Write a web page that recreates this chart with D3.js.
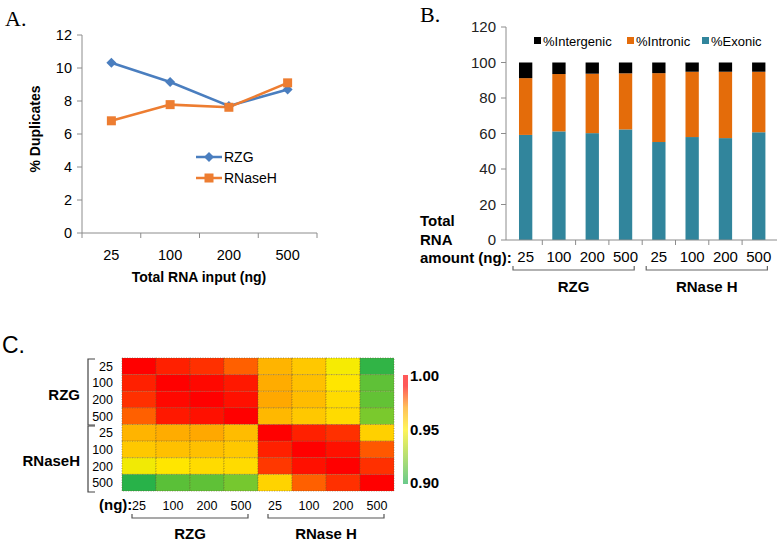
<!DOCTYPE html>
<html><head><meta charset="utf-8">
<script src="https://cdn.jsdelivr.net/npm/d3@7"></script>
<style>
body{margin:0;background:#fff;}
text{font-family:"Liberation Sans",Arial,sans-serif;fill:#000;}
</style></head>
<body><svg id="c" width="777" height="541"></svg>
<script>
// ---- Panel A data ----
const inputsA = ["25","100","200","500"];
const rzgDup = [10.32, 9.15, 7.7, 8.7];
const rnaseDup = [6.8, 7.78, 7.62, 9.1];
const yTicksA = [0,2,4,6,8,10,12];

// ---- Panel B data ----
const groupsB = ["RZG","RZG","RZG","RZG","RNase H","RNase H","RNase H","RNase H"];
const amountsB = ["25","100","200","500","25","100","200","500"];
const exonic = [59.2, 61.2, 60.2, 62.3, 55.2, 58.0, 57.4, 60.7];
const intronic = [32.0, 32.3, 33.5, 31.6, 38.8, 36.8, 37.4, 34.1];
const intergenic = [8.8, 6.5, 6.3, 6.1, 6.0, 5.2, 5.2, 5.2];
const yTicksB = [0,20,40,60,80,100,120];

// ---- Panel C data ----
const samplesC = ["RZG 25","RZG 100","RZG 200","RZG 500","RNaseH 25","RNaseH 100","RNaseH 200","RNaseH 500"];
const amountsC = ["25","100","200","500","25","100","200","500"];
const corr = [
 [0.995,0.986,0.984,0.978,0.965,0.960,0.948,0.905],
 [0.986,1.000,0.989,0.987,0.967,0.962,0.952,0.915],
 [0.984,0.989,1.000,0.988,0.968,0.963,0.955,0.916],
 [0.978,0.987,0.988,1.000,0.964,0.960,0.955,0.921],
 [0.965,0.967,0.968,0.963,1.000,0.986,0.984,0.958],
 [0.960,0.962,0.962,0.960,0.986,1.000,0.988,0.979],
 [0.947,0.952,0.955,0.955,0.983,0.988,1.000,0.984],
 [0.903,0.914,0.915,0.920,0.957,0.978,0.984,1.000]
];
const cbTicks = [0.90,0.95,1.00];

const svg = d3.select("#c");
const axisCol = "#8c8c8c";

// ================= Panel A =================
svg.append("text").attr("x",5).attr("y",26).text("A.")
  .style("font-family","'Liberation Serif',serif").style("font-size","22px");
const xA = d3.scaleBand().domain(inputsA).range([82,317]);
const yA = d3.scaleLinear().domain([0,12]).range([233,35]);
const gA = svg.append("g");
gA.append("line").attr("x1",82).attr("x2",82).attr("y1",yA(12)).attr("y2",yA(0)).attr("stroke",axisCol);
gA.append("line").attr("x1",82).attr("x2",317).attr("y1",yA(0)).attr("y2",yA(0)).attr("stroke",axisCol);
yTicksA.forEach(t=>{
  gA.append("line").attr("x1",77).attr("x2",82).attr("y1",yA(t)).attr("y2",yA(t)).attr("stroke",axisCol);
  gA.append("text").attr("x",72).attr("y",yA(t)+5).attr("text-anchor","end").style("font-size","14.5px").text(t);
});
[...inputsA.map(d=>xA(d)), 317].forEach(x=>{
  gA.append("line").attr("x1",x).attr("x2",x).attr("y1",yA(0)).attr("y2",yA(0)+5).attr("stroke",axisCol);
});
inputsA.forEach(d=>{
  gA.append("text").attr("x",xA(d)+xA.bandwidth()/2).attr("y",260).attr("text-anchor","middle").style("font-size","14.5px").text(d);
});
gA.append("text").attr("x",199).attr("y",282).attr("text-anchor","middle").style("font-size","14px").style("font-weight","bold").text("Total RNA input (ng)");
gA.append("text").attr("transform","translate(40,129) rotate(-90)").attr("text-anchor","middle").style("font-size","14px").style("font-weight","bold").text("% Duplicates");

const blue = "#4a7ebf", orange = "#ed7d31";
const lineA = d3.line().x((d,i)=>xA(inputsA[i])+xA.bandwidth()/2).y(d=>yA(d));
gA.append("path").datum(rzgDup).attr("d",lineA).attr("fill","none").attr("stroke",blue).attr("stroke-width",2.5);
gA.append("path").datum(rnaseDup).attr("d",lineA).attr("fill","none").attr("stroke",orange).attr("stroke-width",2.5);
const diamond = (cx,cy,s)=>`M${cx},${cy-s}L${cx+s},${cy}L${cx},${cy+s}L${cx-s},${cy}Z`;
rzgDup.forEach((v,i)=>{
  gA.append("path").attr("d",diamond(xA(inputsA[i])+xA.bandwidth()/2,yA(v),5)).attr("fill",blue);
});
rnaseDup.forEach((v,i)=>{
  gA.append("rect").attr("x",xA(inputsA[i])+xA.bandwidth()/2-4.5).attr("y",yA(v)-4.5).attr("width",9).attr("height",9).attr("fill",orange);
});
// legend A
gA.append("line").attr("x1",196).attr("x2",222).attr("y1",157).attr("y2",157).attr("stroke",blue).attr("stroke-width",2.5);
gA.append("path").attr("d",diamond(209,157,5)).attr("fill",blue);
gA.append("text").attr("x",224).attr("y",162).style("font-size","14px").text("RZG");
gA.append("line").attr("x1",196).attr("x2",222).attr("y1",178).attr("y2",178).attr("stroke",orange).attr("stroke-width",2.5);
gA.append("rect").attr("x",204.5).attr("y",173.5).attr("width",9).attr("height",9).attr("fill",orange);
gA.append("text").attr("x",224).attr("y",183).style("font-size","14px").text("RNaseH");

// ================= Panel B =================
svg.append("text").attr("x",420).attr("y",22).text("B.")
  .style("font-family","'Liberation Serif',serif").style("font-size","22px");
const idxB = d3.range(amountsB.length);
const xB = d3.scaleBand().domain(idxB).range([509,775.4]).paddingInner(0.6).paddingOuter(0.3);
const xBb = d3.scaleBand().domain(idxB).range([509,775.4]);
const yB = d3.scaleLinear().domain([0,120]).range([240,27]);
const gB = svg.append("g");
const stackData = idxB.map(i=>({i, ex:exonic[i], in:intronic[i], ig:intergenic[i]}));
const stack = d3.stack().keys(["ex","in","ig"])(stackData);
const colsB = {ex:"#31859c", in:"#e46c0a", ig:"#000000"};
stack.forEach(layer=>{
  gB.selectAll(null).data(layer).enter().append("rect")
    .attr("x",d=>xB(d.data.i)).attr("width",xB.bandwidth())
    .attr("y",d=>yB(d[1])).attr("height",d=>yB(d[0])-yB(d[1]))
    .attr("fill",colsB[layer.key]);
});
gB.append("line").attr("x1",506).attr("x2",506).attr("y1",yB(120)).attr("y2",yB(0)).attr("stroke",axisCol);
gB.append("line").attr("x1",506).attr("x2",777).attr("y1",yB(0)).attr("y2",yB(0)).attr("stroke",axisCol);
yTicksB.forEach(t=>{
  gB.append("line").attr("x1",501).attr("x2",506).attr("y1",yB(t)).attr("y2",yB(t)).attr("stroke",axisCol);
  gB.append("text").attr("x",496).attr("y",yB(t)+5).attr("text-anchor","end").style("font-size","15px").style("fill","#222").text(t);
});
idxB.slice(1).forEach(i=>{
  const x = xBb(i);
  gB.append("line").attr("x1",x).attr("x2",x).attr("y1",yB(0)).attr("y2",yB(0)+5).attr("stroke",axisCol);
});
idxB.forEach(i=>{
  gB.append("text").attr("x",xBb(i)+xBb.bandwidth()/2).attr("y",262).attr("text-anchor","middle").style("font-size","15px").text(amountsB[i]);
});
["Total","RNA","amount (ng):"].forEach((t,k)=>{
  gB.append("text").attr("x",420).attr("y",226+k*18.5).style("font-size","15px").style("font-weight","bold").text(t);
});
// brackets B
const groupNames = ["RZG","RNase H"];
groupNames.forEach(g=>{
  const ids = idxB.filter(i=>groupsB[i]===g);
  const x0 = xBb(ids[0])+4, x1 = xBb(ids[ids.length-1])+xBb.bandwidth()-8;
  gB.append("path").attr("d",`M${x0},266V270H${x1}V266`).attr("fill","none").attr("stroke","#666").attr("stroke-width",1.2);
  gB.append("text").attr("x",(x0+x1)/2).attr("y",292).attr("text-anchor","middle").style("font-size","15px").style("font-weight","bold").text(g);
});
// legend B
const legB = [["%Intergenic","ig",534],["%Intronic","in",627],["%Exonic","ex",702]];
legB.forEach(([lab,k,x])=>{
  gB.append("rect").attr("x",x).attr("y",37).attr("width",7).attr("height",7).attr("fill",colsB[k]);
  gB.append("text").attr("x",x+9).attr("y",46).style("font-size","13px").text(lab);
});

// ================= Panel C =================
svg.append("text").attr("x",2).attr("y",353).style("font-size","23px").text("C.");
const xC = d3.scaleBand().domain(d3.range(8)).range([122,394]);
const yC = d3.scaleBand().domain(d3.range(8)).range([358,491]);
const colorC = d3.scaleLinear().domain([0.90,0.95,0.96,0.97,0.99])
  .range(["#1aae4e","#ffee00","#ffc800","#ffa000","#ff0000"]).clamp(true);
const gC = svg.append("g");
corr.forEach((row,r)=>row.forEach((v,c)=>{
  gC.append("rect").attr("x",xC(c)).attr("y",yC(r)).attr("width",xC.bandwidth()).attr("height",yC.bandwidth())
    .attr("fill",colorC(v)).attr("stroke","#6b5a30").attr("stroke-width",0.6).attr("stroke-dasharray","1,1.5");
}));
// row labels
amountsC.forEach((a,i)=>{
  gC.append("text").attr("x",113).attr("y",yC(i)+yC.bandwidth()/2+4.5).attr("text-anchor","end").style("font-size","12.5px").text(a);
  gC.append("text").attr("x",xC(i)+xC.bandwidth()/2).attr("y",510).attr("text-anchor","middle").style("font-size","12.5px").text(a);
});
// left brackets
gC.append("path").attr("d",`M95,359H88V425H95`).attr("fill","none").attr("stroke","#444").attr("stroke-width",1.2);
gC.append("path").attr("d",`M95,426H88V492H95`).attr("fill","none").attr("stroke","#444").attr("stroke-width",1.2);
gC.append("text").attr("x",80).attr("y",400).attr("text-anchor","end").style("font-size","15px").style("font-weight","bold").text("RZG");
gC.append("text").attr("x",80).attr("y",466).attr("text-anchor","end").style("font-size","15px").style("font-weight","bold").text("RNaseH");
gC.append("text").attr("x",99).attr("y",510).style("font-size","15px").style("font-weight","bold").text("(ng):");
// bottom brackets
[["RZG",0,3],["RNase H",4,7]].forEach(([g,a,b])=>{
  const x0 = xC(a)+10, x1 = xC(b)+xC.bandwidth()-10;
  gC.append("path").attr("d",`M${x0},514V518H${x1}V514`).attr("fill","none").attr("stroke","#555").attr("stroke-width",1.2);
  gC.append("text").attr("x",(x0+x1)/2).attr("y",539).attr("text-anchor","middle").style("font-size","15px").style("font-weight","bold").text(g);
});
// colorbar
const yCb = d3.scaleLinear().domain([0.90,1.00]).range([483,376]);
const defs = svg.append("defs");
const grad = defs.append("linearGradient").attr("id","cbg").attr("x1",0).attr("x2",0).attr("y1",1).attr("y2",0);
d3.range(0,1.0001,0.05).forEach(t=>{
  const v = 0.90 + t*0.10;
  const col = d3.interpolateRgb(colorC(v),"#ffffff")(0.35);
  grad.append("stop").attr("offset",t).attr("stop-color",col);
});
gC.append("rect").attr("x",403).attr("y",yCb(1.0)-1).attr("width",5).attr("height",yCb(0.90)-yCb(1.0)+2).attr("fill","url(#cbg)");
cbTicks.forEach(t=>{
  gC.append("text").attr("x",410).attr("y",yCb(t)+5).style("font-size","15px").style("font-weight","bold").text(t.toFixed(2));
});
</script></body></html>
